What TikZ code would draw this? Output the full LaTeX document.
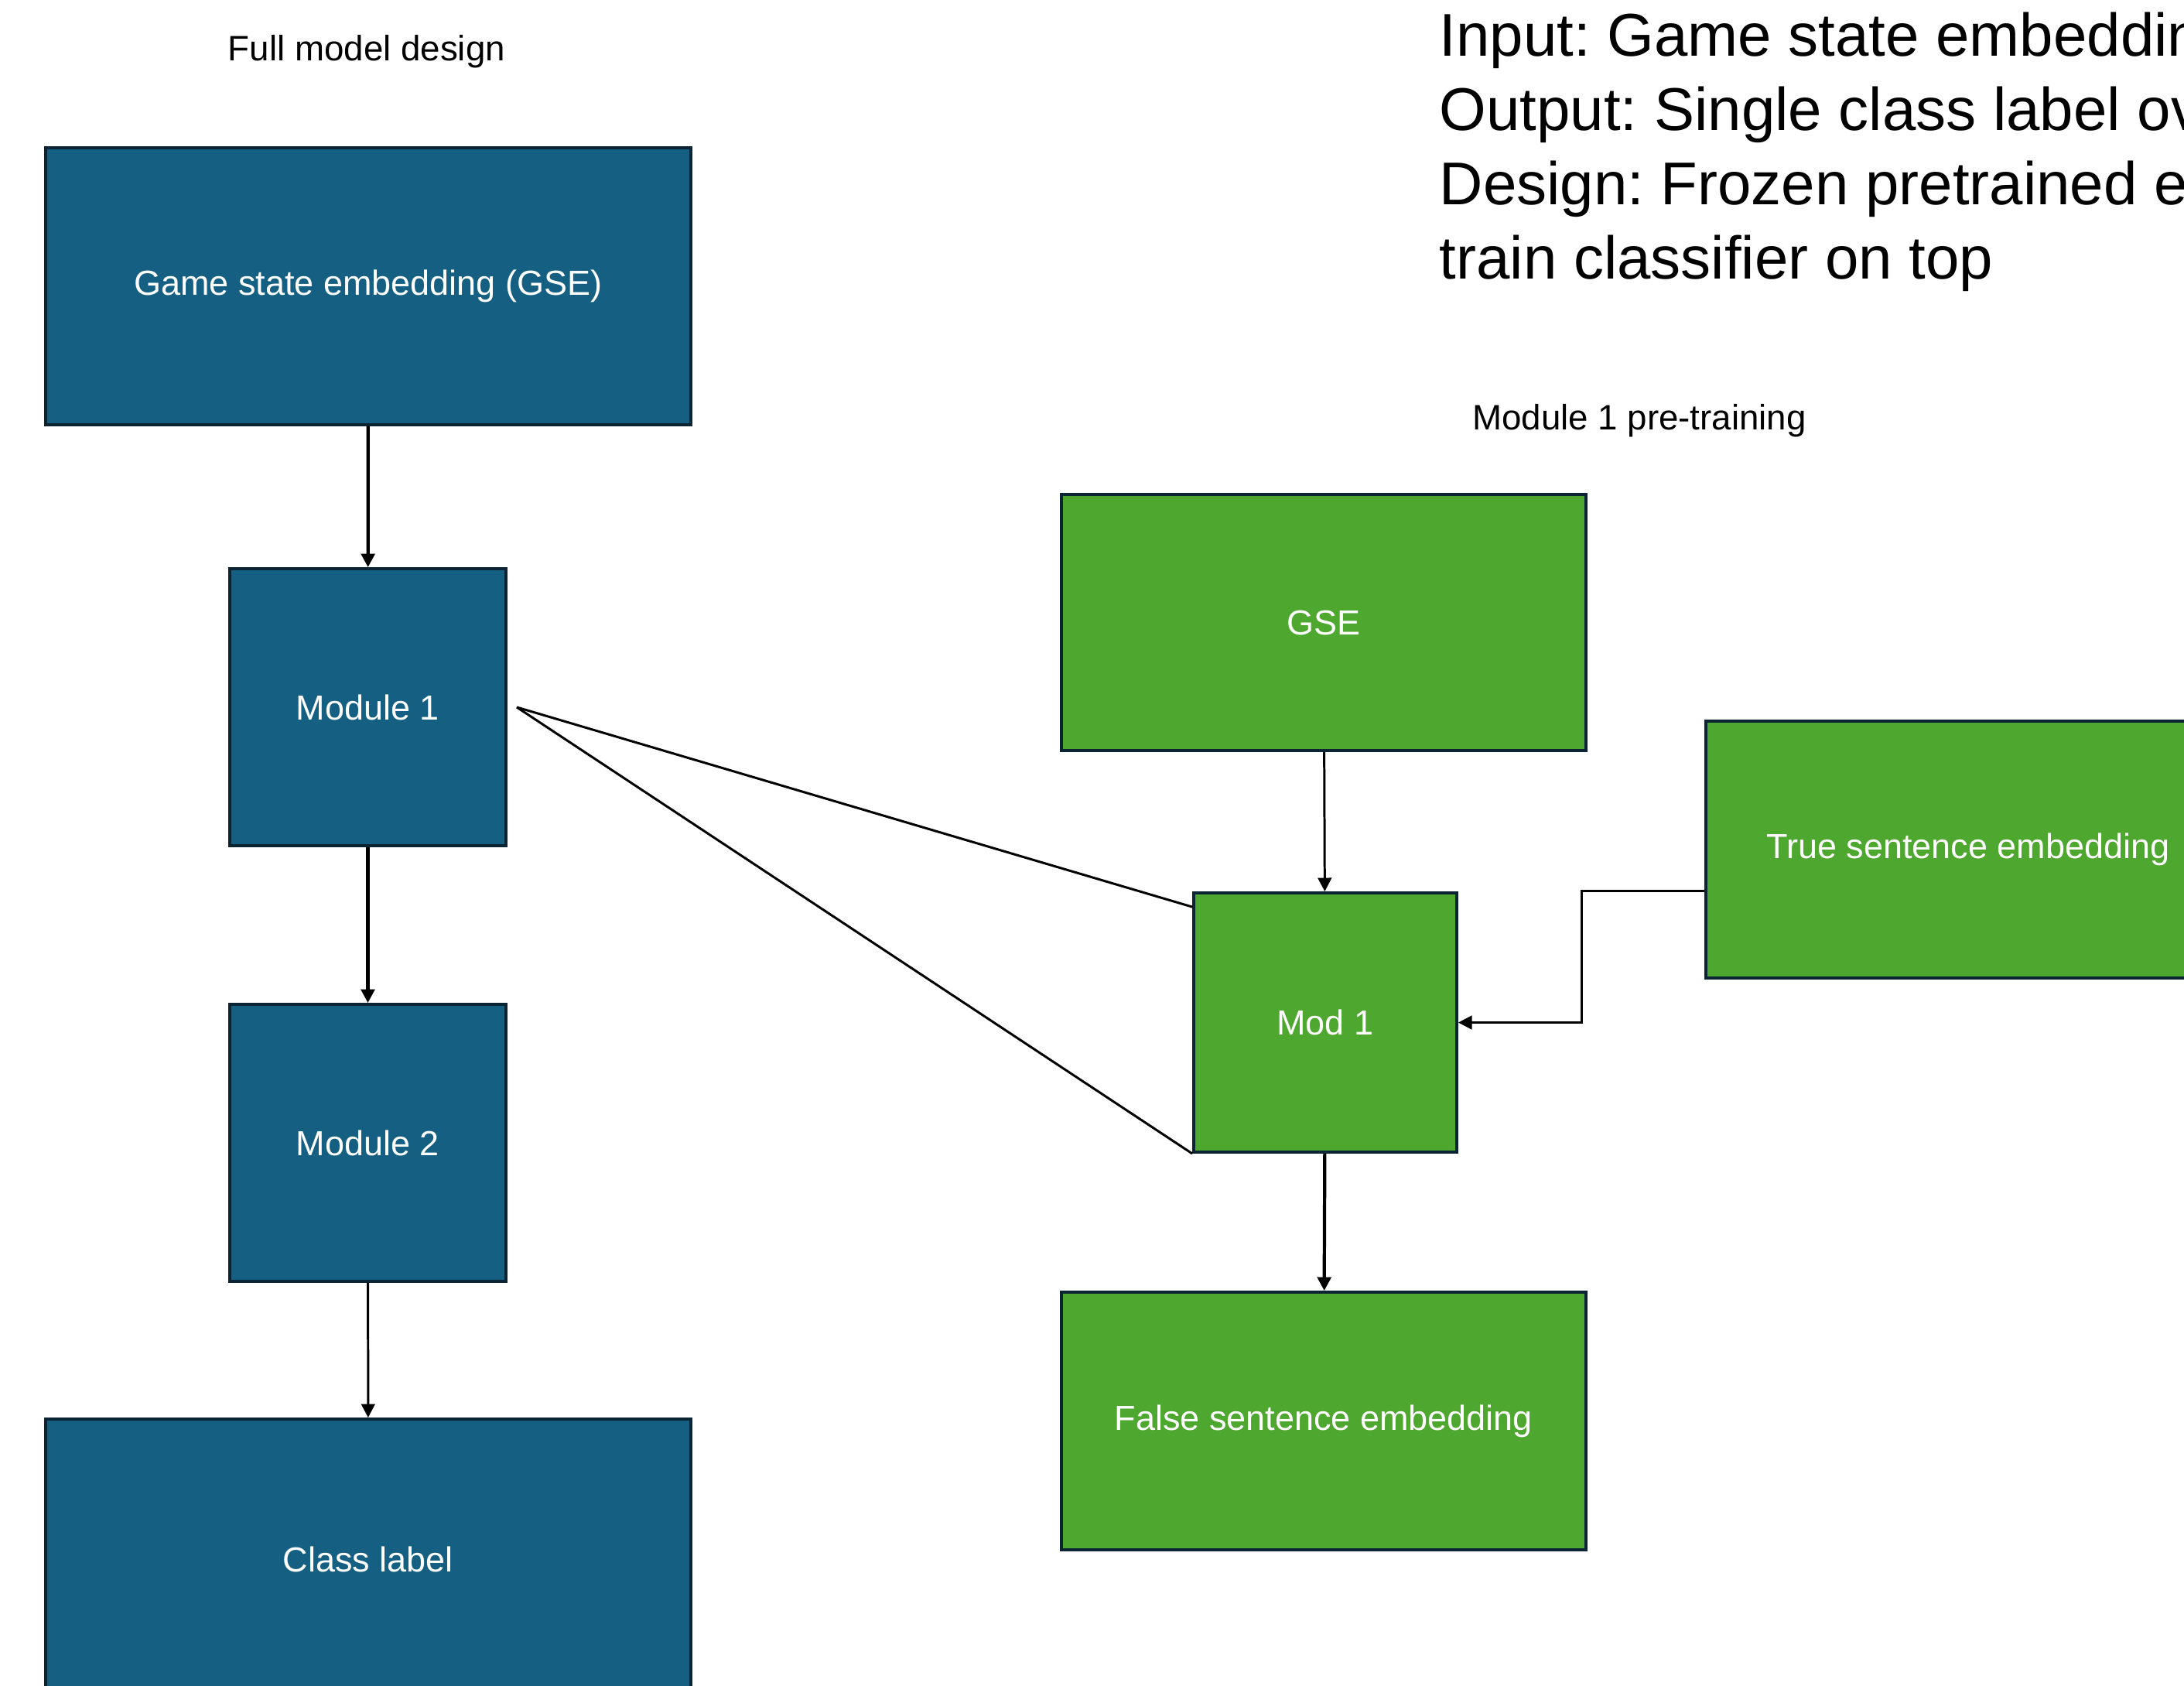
\documentclass[tikz,border=0pt]{standalone}
\usepackage{fontspec}
\setmainfont{Liberation Sans}
\usepackage{tikz}
\usetikzlibrary{arrows.meta,positioning}
\definecolor{boxBlue}{HTML}{156082}
\definecolor{boxGreen}{HTML}{4EA72E}
\definecolor{boxEdge}{HTML}{0A2433}
\frenchspacing

\begin{document}
\begin{tikzpicture}[
    bluebox/.style={draw=boxEdge, line width=1.1pt, fill=boxBlue, text=white, inner sep=0pt,
        font=\fontsize{12.8}{15}\selectfont},
    greenbox/.style={bluebox, fill=boxGreen},
    thinarrow/.style={line width=0.85pt, -{Triangle[length=5pt,width=5pt]}},
    thickarrow/.style={line width=1.2pt, -{Triangle[length=5pt,width=5pt]}},
    title/.style={font=\fontsize{13}{15}\selectfont},
    bigtext/.style={anchor=base west, inner sep=0pt, font=\fontsize{22.2}{27}\selectfont}]
    \useasboundingbox (0,0) rectangle (28.23,-21.78);
    % full model
    \node[title] (fulltitle) at (4.74,-0.67) {Full model design};
    \node[bluebox, minimum width=8.34cm, minimum height=3.58cm] (gse) at (4.76,-3.70) {Game state embedding (GSE)};
    \node[bluebox, minimum width=3.57cm, minimum height=3.58cm] (mod1) at (4.755,-9.14) {Module 1};
    \node[bluebox, minimum width=3.57cm, minimum height=3.58cm] (mod2) at (4.755,-14.77) {Module 2};
    \node[bluebox, minimum width=8.34cm, minimum height=3.62cm] (cls) at (4.76,-20.15) {Class label};
    \draw[thickarrow] (gse) -- (mod1);
    \draw[thickarrow] (mod1) -- (mod2);
    \draw[thinarrow] (mod2) -- (cls);
    % module 1 pre-training
    \node[title] (pretitle) at (21.19,-5.44) {Module 1 pre-training};
    \node[greenbox, minimum width=6.78cm, minimum height=3.31cm] (ggse) at (17.11,-8.045) {GSE};
    \node[greenbox, minimum width=3.40cm, minimum height=3.35cm] (gmod) at (17.13,-13.215) {Mod 1};
    \node[greenbox, minimum width=6.78cm, minimum height=3.32cm] (gtrue) at (25.44,-10.98) {True sentence embedding};
    \node[greenbox, minimum width=6.78cm, minimum height=3.33cm] (gfalse) at (17.11,-18.365) {False sentence embedding};
    \draw[thinarrow] (ggse) -- (gmod);
    \draw[thickarrow] (gmod) -- (gfalse);
    \draw[thinarrow] ([yshift=-0.53cm]gtrue.west) -- ++(-1.59,0) |- (gmod.east);
    \coordinate (mod1tip) at (6.68,-9.14);
    \draw[line width=0.85pt] (mod1tip) -- ([yshift=-0.2cm]gmod.north west);
    \draw[line width=0.85pt] (mod1tip) -- (gmod.south west);
    % notes
    \node[bigtext] (info1) at (18.60,-0.72) {Input: Game state embedding};
    \node[bigtext] (info2) at (18.60,-1.68) {Output: Single class label ov};
    \node[bigtext] (info3) at (18.60,-2.64) {Design: Frozen pretrained en};
    \node[bigtext] (info4) at (18.60,-3.60) {train classifier on top};
\end{tikzpicture}
\end{document}
